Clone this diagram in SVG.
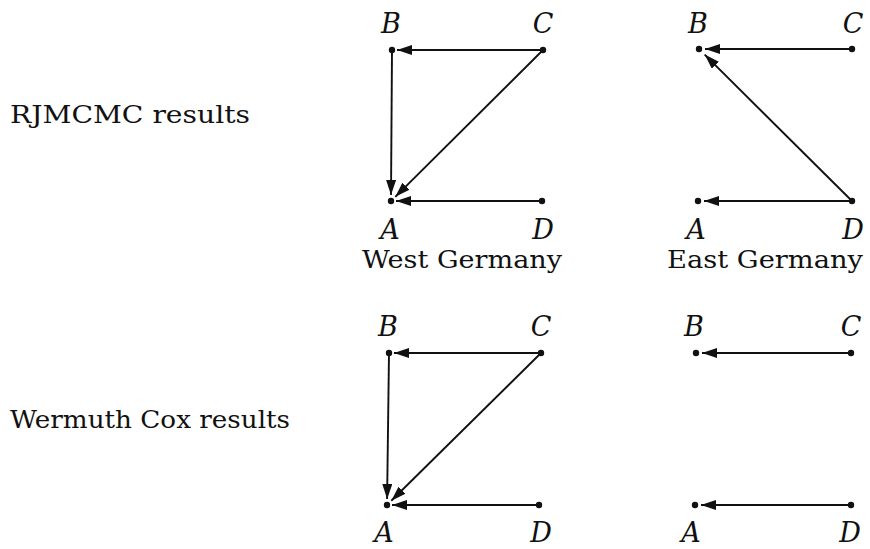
<svg xmlns="http://www.w3.org/2000/svg" width="870" height="549" viewBox="0 0 870 549">
<style>
.t{font-family:'DejaVu Serif','Liberation Serif',serif;font-size:25px;fill:#111}
.l{font-family:'DejaVu Serif','Liberation Serif',serif;font-style:italic;font-size:27px;fill:#111;text-anchor:middle}
.e{stroke:#111;stroke-width:1.9;fill:none;marker-end:url(#ah)}
.d{fill:#111}
</style>
<defs>
<marker id="ah" markerUnits="userSpaceOnUse" markerWidth="18" markerHeight="12" refX="15" refY="5" orient="auto">
<path d="M0,0 L15,5 L0,10 z" fill="#111"/>
</marker>
</defs>
<rect width="870" height="549" fill="#fff"/>
<text class="t" x="10" y="123" textLength="240" lengthAdjust="spacingAndGlyphs">RJMCMC results</text>
<text class="t" x="10" y="428" textLength="280" lengthAdjust="spacingAndGlyphs">Wermuth Cox results</text>
<text class="t" x="362" y="268" textLength="200" lengthAdjust="spacingAndGlyphs">West Germany</text>
<text class="t" x="667" y="268" textLength="196" lengthAdjust="spacingAndGlyphs">East Germany</text>
<g id="connectors">
<line class="e" x1="543" y1="50" x2="397" y2="50"/>
<line class="e" x1="392" y1="50" x2="391" y2="195"/>
<line class="e" x1="543" y1="50" x2="395.3" y2="196.8"/>
<line class="e" x1="542" y1="201" x2="396" y2="201"/>
<line class="e" x1="852" y1="49" x2="705" y2="49"/>
<line class="e" x1="852" y1="201" x2="704.7" y2="54.6"/>
<line class="e" x1="852" y1="201" x2="704" y2="201"/>
<line class="e" x1="541" y1="353" x2="394" y2="353"/>
<line class="e" x1="389" y1="353" x2="387.1" y2="499"/>
<line class="e" x1="541" y1="353" x2="391.3" y2="500.8"/>
<line class="e" x1="539" y1="505" x2="392" y2="505"/>
<line class="e" x1="851" y1="353" x2="702" y2="353"/>
<line class="e" x1="851" y1="505" x2="701" y2="505"/>
</g>
<g id="WG-B"><circle class="d" cx="392" cy="50" r="3.2"/><text class="l" x="391" y="33">B</text></g>
<g id="WG-C"><circle class="d" cx="543" cy="50" r="3.2"/><text class="l" x="543" y="33">C</text></g>
<g id="WG-A"><circle class="d" cx="391" cy="201" r="3.2"/><text class="l" x="390" y="239">A</text></g>
<g id="WG-D"><circle class="d" cx="542" cy="201" r="3.2"/><text class="l" x="543" y="239">D</text></g>
<g id="EG-B"><circle class="d" cx="699" cy="49" r="3.2"/><text class="l" x="698" y="33">B</text></g>
<g id="EG-C"><circle class="d" cx="852" cy="49" r="3.2"/><text class="l" x="853" y="33">C</text></g>
<g id="EG-A"><circle class="d" cx="698" cy="201" r="3.2"/><text class="l" x="696" y="239">A</text></g>
<g id="EG-D"><circle class="d" cx="852" cy="201" r="3.2"/><text class="l" x="853" y="239">D</text></g>
<g id="WC1-B"><circle class="d" cx="389" cy="353" r="3.2"/><text class="l" x="388" y="336">B</text></g>
<g id="WC1-C"><circle class="d" cx="541" cy="353" r="3.2"/><text class="l" x="541" y="336">C</text></g>
<g id="WC1-A"><circle class="d" cx="387" cy="505" r="3.2"/><text class="l" x="384" y="542">A</text></g>
<g id="WC1-D"><circle class="d" cx="539" cy="505" r="3.2"/><text class="l" x="541" y="542">D</text></g>
<g id="WC2-B"><circle class="d" cx="696" cy="353" r="3.2"/><text class="l" x="694" y="336">B</text></g>
<g id="WC2-C"><circle class="d" cx="851" cy="353" r="3.2"/><text class="l" x="851" y="336">C</text></g>
<g id="WC2-A"><circle class="d" cx="695" cy="505" r="3.2"/><text class="l" x="691" y="542">A</text></g>
<g id="WC2-D"><circle class="d" cx="851" cy="505" r="3.2"/><text class="l" x="850" y="542">D</text></g>
</svg>
